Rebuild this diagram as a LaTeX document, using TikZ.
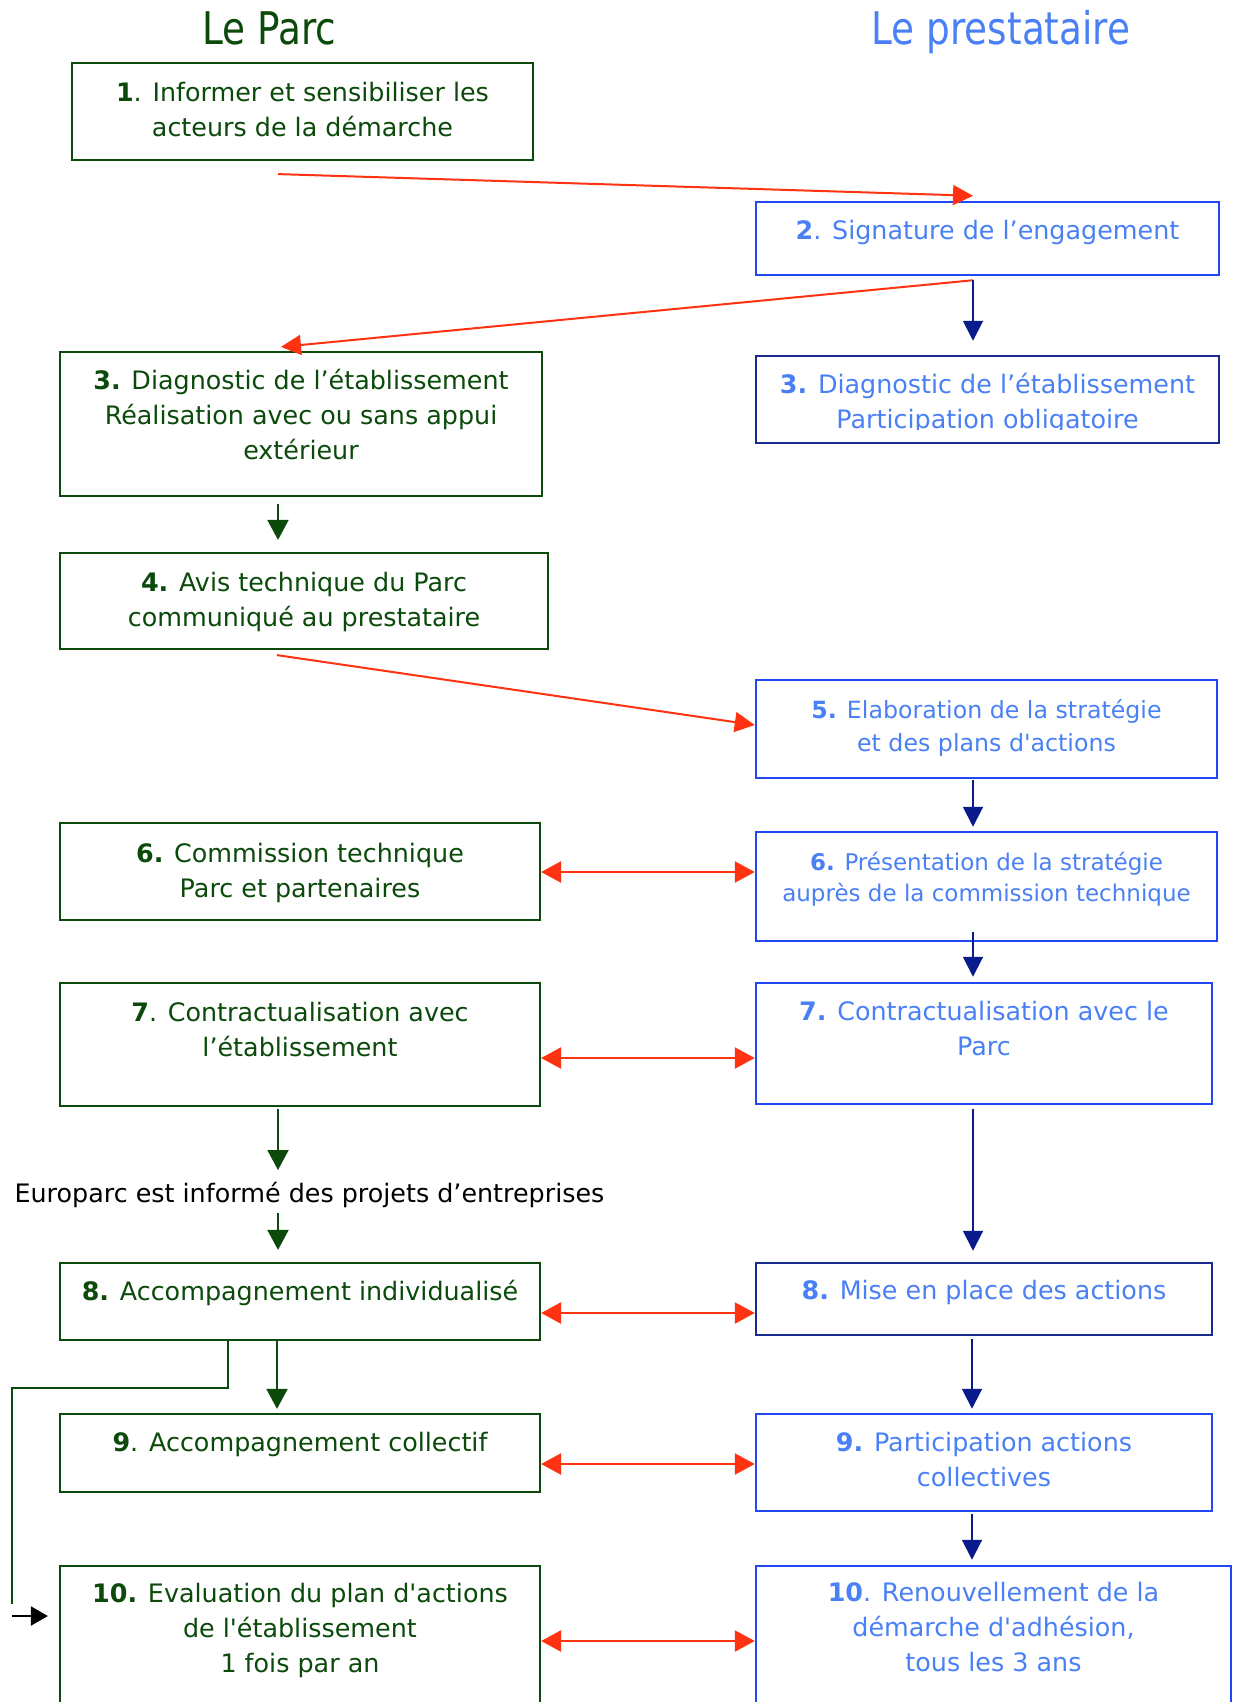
\documentclass[tikz,border=0pt]{standalone}
\usepackage{fontspec}
\usepackage{graphicx}
\setmainfont{DejaVu Sans}
\usetikzlibrary{arrows.meta,calc}
\definecolor{parcgreen}{HTML}{0B4A0B}
\definecolor{prestext}{HTML}{4A80F5}
\definecolor{boxblue}{HTML}{2447F5}
\definecolor{navyborder}{HTML}{1A2B8F}
\definecolor{arrnavy}{HTML}{0A1C8C}
\definecolor{arrred}{HTML}{FF3311}
\begin{document}
\begin{tikzpicture}[x=1pt,y=-1pt,
  gbox/.style={draw=parcgreen,line width=2.2pt,rectangle,inner sep=0pt},
  bbox/.style={draw=boxblue,line width=2.5pt,rectangle,inner sep=0pt},
  nbox/.style={draw=navyborder,line width=2.5pt,rectangle,inner sep=0pt},
  gtxt/.style={anchor=north,align=center,inner sep=0pt,text=parcgreen,font=\fontsize{25.4}{35}\selectfont},
  btxt/.style={anchor=north,align=center,inner sep=0pt,text=prestext,font=\fontsize{25.4}{35}\selectfont},
  redarr/.style={draw=arrred,line width=2pt,-{Triangle[length=20pt,width=20pt]}},
  redboth/.style={draw=arrred,line width=2.5pt,{Triangle[length=20pt,width=21pt]}-{Triangle[length=20pt,width=21pt]}},
  navyarr/.style={draw=arrnavy,line width=2pt,-{Triangle[length=20pt,width=20pt]}},
  greenarr/.style={draw=parcgreen,line width=2pt,-{Triangle[length=20pt,width=21pt]}},
]
\useasboundingbox (0,0) rectangle (1232,1702);
\fill[white] (0,0) rectangle (1232,1702);
\clip (0,0) rectangle (1232,1702);

\newcommand{\st}{\rule{0pt}{24pt}}

% column connector axes
\coordinate (cl) at (278,0);
\coordinate (cr) at (973,0);
\coordinate (loopx) at (228,0);
\coordinate (edgex) at (12,0);

% titles
\node[anchor=base,inner sep=0pt,text=parcgreen,font=\fontsize{45}{50}\selectfont] (titleL) at (269.5,45) {\scalebox{0.83}[1]{Le Parc}};
\node[anchor=base,inner sep=0pt,text=prestext,font=\fontsize{45}{50}\selectfont] (titleR) at (1001,45) {\scalebox{0.83}[1]{Le prestataire}};

% boxes
\node[gbox,minimum width=461pt,minimum height=97pt] (b1) at (302.5,111.5) {};
\node[bbox,minimum width=463pt,minimum height=73pt] (b2) at (987.5,238.5) {};
\node[gbox,minimum width=482pt,minimum height=144pt] (b3l) at (301,424) {};
\node[nbox,minimum width=463pt,minimum height=87pt] (b3r) at (987.5,399.5) {};
\node[gbox,minimum width=488pt,minimum height=96pt] (b4) at (304,601) {};
\node[bbox,minimum width=461pt,minimum height=98pt] (b5) at (986.5,729) {};
\node[gbox,minimum width=480pt,minimum height=97pt] (b6l) at (300,871.5) {};
\node[bbox,minimum width=461pt,minimum height=109pt] (b6r) at (986.5,886.5) {};
\node[gbox,minimum width=480pt,minimum height=123pt] (b7l) at (300,1044.5) {};
\node[bbox,minimum width=456pt,minimum height=121pt] (b7r) at (984,1043.5) {};
\node[gbox,minimum width=480pt,minimum height=77pt] (b8l) at (300,1301.5) {};
\node[nbox,minimum width=456pt,minimum height=72pt] (b8r) at (984,1299) {};
\node[gbox,minimum width=480pt,minimum height=78pt] (b9l) at (300,1453) {};
\node[bbox,minimum width=456pt,minimum height=97pt] (b9r) at (984,1462.5) {};
\node[gbox,minimum width=480pt,minimum height=164pt] (b10l) at (300,1648) {};
\node[bbox,minimum width=475pt,minimum height=164pt] (b10r) at (993.5,1648) {};

% texts
\node[gtxt] (t1) at ($(b1.north)+(0,15)$) {\st\textbf{1}. Informer et sensibiliser les\\acteurs de la démarche};
\node[btxt] (t2) at ($(b2.north)+(0,15)$) {\st\textbf{2}. Signature de l’engagement};
\node[gtxt] (t3l) at ($(b3l.north)+(0,14)$) {\st\textbf{3.} Diagnostic de l’établissement\\Réalisation avec ou sans appui\\extérieur};
\begin{scope}
\clip (b3r.north west) rectangle ($(b3r.south east)+(0,-15)$);
\node[btxt] (t3r) at ($(b3r.north)+(0,15)$) {\st\textbf{3.} Diagnostic de l’établissement\\Participation obligatoire};
\end{scope}
\node[gtxt] (t4) at ($(b4.north)+(0,15)$) {\st\textbf{4.} Avis technique du Parc\\communiqué au prestataire};
\node[btxt,font=\fontsize{23.7}{33}\selectfont] (t5) at ($(b5.north)+(0,17)$) {\rule{0pt}{23pt}\textbf{5.} Elaboration de la stratégie\\et des plans d\textquotesingle actions};
\node[gtxt] (t6l) at ($(b6l.north)+(0,16)$) {\st\textbf{6.} Commission technique\\Parc et partenaires};
\node[btxt,font=\fontsize{23}{31}\selectfont] (t6r) at ($(b6r.north)+(0,18)$) {\rule{0pt}{22pt}\textbf{6.} Présentation de la stratégie\\auprès de la commission technique};
\node[gtxt] (t7l) at ($(b7l.north)+(0,15)$) {\st\textbf{7}. Contractualisation avec\\l’établissement};
\node[btxt] (t7r) at ($(b7r.north)+(0,15)$) {\st\textbf{7.} Contractualisation avec le\\Parc};
\node[gtxt] (t8l) at ($(b8l.north)+(0,14)$) {\st\textbf{8.} Accompagnement individualisé};
\node[btxt] (t8r) at ($(b8r.north)+(0,14)$) {\st\textbf{8.} Mise en place des actions};
\node[gtxt] (t9l) at ($(b9l.north)+(0,14)$) {\st\textbf{9}. Accompagnement collectif};
\node[btxt] (t9r) at ($(b9r.north)+(0,15)$) {\st\textbf{9.} Participation actions\\collectives};
\node[gtxt] (t10l) at ($(b10l.north)+(0,13)$) {\st\textbf{10.} Evaluation du plan d\textquotesingle actions\\de l\textquotesingle établissement\\1 fois par an};
\node[btxt] (t10r) at ($(b10r.north)+(0,13)$) {\st\textbf{10}. Renouvellement de la\\démarche d\textquotesingle adhésion,\\tous les 3 ans};

\node[anchor=base,inner sep=0pt,font=\fontsize{25.4}{35}\selectfont] (euro) at (309.5,1202) {Europarc est informé des projets d’entreprises};

% connectors
\draw[redarr] ($(b1.south -| cl)+(0,13)$) -- ($(b2.north -| cr)+(0,-5)$);
\draw[redarr] ($(b2.south -| cr)+(0,4)$) -- ($(b3l.north -| cl)+(3,-4)$);
\draw[navyarr] ($(b2.south -| cr)+(0,4)$) -- ($(b3r.north -| cr)+(0,-14)$);
\draw[greenarr] ($(b3l.south -| cl)+(0,7)$) -- ($(b4.north -| cl)+(0,-12)$);
\draw[redarr] ($(b4.south -| cl)+(-1,5)$) -- ($(b5.west)+(0,-4)$);
\draw[navyarr] ($(b5.south -| cr)+(0,1)$) -- ($(b6r.north -| cr)+(0,-4)$);
\draw[redboth] ($(b6l.east)+(0,0.5)$) -- ($(b6l.east -| b6r.west)+(0,0.5)$);
\draw[navyarr] ($(b6r.south -| cr)+(0,-10)$) -- ($(b7r.north -| cr)+(0,-5)$);
\draw[redboth] ($(b7l.east)+(0,13.5)$) -- ($(b7l.east -| b7r.west)+(0,13.5)$);
\draw[greenarr] ($(b7l.south -| cl)+(0,2)$) -- ($(euro.base -| cl)+(0,-32)$);
\draw[greenarr] ($(euro.base -| cl)+(0,11)$) -- ($(b8l.north -| cl)+(0,-12)$);
\draw[navyarr] ($(b7r.south -| cr)+(0,4)$) -- ($(b8r.north -| cr)+(0,-11)$);
\draw[redboth] ($(b8l.east)+(0,11.5)$) -- ($(b8l.east -| b8r.west)+(0,11.5)$);
\draw[greenarr] ($(b8l.south -| cl)+(-1,-2)$) -- ($(b9l.north -| cl)+(-1,-4)$);
\draw[draw=parcgreen,line width=1.6pt] ($(b8l.south -| loopx)+(0,-2)$) -- ($(b8l.south -| loopx)+(0,47)$) -- ($(b8l.south -| edgex)+(0,47)$) -- ($(b10l.north -| edgex)+(0,39)$);
\coordinate (loopend) at ($(b10l.west -| edgex)+(0,-32)$);
\draw[black,line width=2pt,-{Triangle[length=17pt,width=19pt]}] (loopend) -- ($(b10l.west)+(-11,-32)$);
\draw[navyarr] ($(b8r.south -| cr)+(-1,3)$) -- ($(b9r.north -| cr)+(-1,-4)$);
\draw[redboth] ($(b9l.east)+(0,11)$) -- ($(b9l.east -| b9r.west)+(0,11)$);
\draw[navyarr] ($(b9r.south -| cr)+(-1,2)$) -- ($(b10r.north -| cr)+(-1,-5)$);
\draw[redboth] ($(b10l.east)+(0,-7)$) -- ($(b10l.east -| b10r.west)+(0,-7)$);
\end{tikzpicture}
\end{document}
